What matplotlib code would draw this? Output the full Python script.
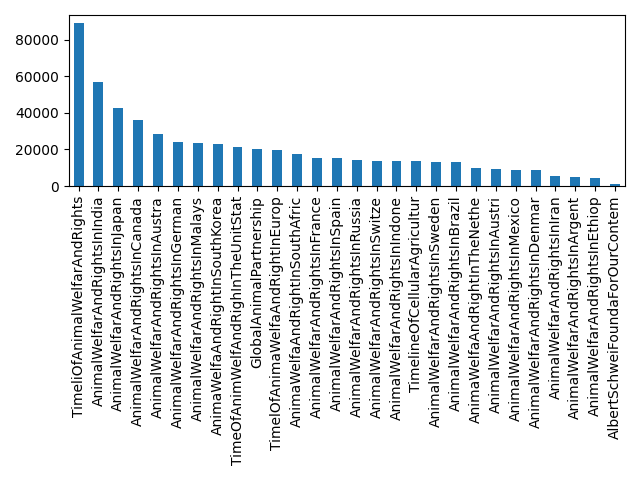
import matplotlib
matplotlib.use('Agg')
import matplotlib.pyplot as plt
import pandas as pd

pages = [
    'TimeliOfAnimalWelfarAndRights',
    'AnimalWelfarAndRightsInIndia',
    'AnimalWelfarAndRightsInJapan',
    'AnimalWelfarAndRightsInCanada',
    'AnimalWelfarAndRightsInAustra',
    'AnimalWelfarAndRightsInGerman',
    'AnimalWelfarAndRightsInMalays',
    'AnimaWelfaAndRightInSouthKorea',
    'TimeOfAnimWelfAndRighInTheUnitStat',
    'GlobalAnimalPartnership',
    'TimelOfAnimaWelfaAndRightInEurop',
    'AnimaWelfaAndRightInSouthAfric',
    'AnimalWelfarAndRightsInFrance',
    'AnimalWelfarAndRightsInSpain',
    'AnimalWelfarAndRightsInRussia',
    'AnimalWelfarAndRightsInSwitze',
    'AnimalWelfarAndRightsInIndone',
    'TimelineOfCellularAgricultur',
    'AnimalWelfarAndRightsInSweden',
    'AnimalWelfarAndRightsInBrazil',
    'AnimaWelfaAndRightInTheNethe',
    'AnimalWelfarAndRightsInAustri',
    'AnimalWelfarAndRightsInMexico',
    'AnimalWelfarAndRightsInDenmar',
    'AnimalWelfarAndRightsInIran',
    'AnimalWelfarAndRightsInArgent',
    'AnimalWelfarAndRightsInEthiop',
    'AlbertSchweiFoundaForOurContem',
]

counts = [
    89000, 56900, 42700, 36100, 28500, 24100, 23600, 23000, 21400, 20300,
    19800, 17600, 15400, 15400, 14200, 13600, 13600, 13600, 13100, 13100,
    9800, 9300, 8700, 8700, 5500, 4900, 4400, 1100,
]

series = pd.Series(counts, index=pages)

fig = plt.figure(figsize=(6.4, 4.8), dpi=100)
ax = series.plot(kind='bar')
plt.tight_layout()
plt.savefig('out.png')
